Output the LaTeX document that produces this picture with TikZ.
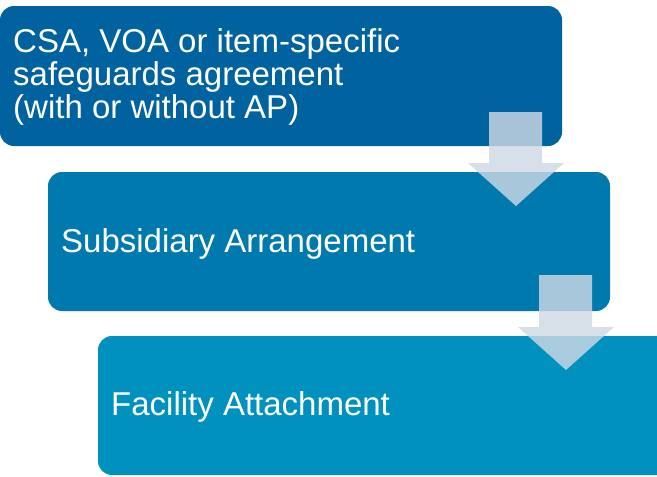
\documentclass[tikz,border=0pt]{standalone}
\usepackage{fontspec}
\setmainfont{Liberation Sans}
\definecolor{cA}{RGB}{0,99,160}
\definecolor{cB}{RGB}{0,122,174}
\definecolor{cC}{RGB}{0,145,190}
\definecolor{cArr}{RGB}{206,216,228}
\begin{document}
\begin{tikzpicture}[x=1pt,y=-1pt,
  box/.style={rounded corners=14pt},
  lbl/.style={text=white,anchor=base west,align=left,inner sep=0pt,font=\fontsize{33}{33}\selectfont},
  arr/.style={fill=cArr,fill opacity=0.82}]
\useasboundingbox (0,0) rectangle (657,477);
\fill[box,cA] (0,6) rectangle (562,146);
\fill[box,cB] (48,172) rectangle (610,311);
\fill[box,cC] (98,336) rectangle (700,475);
\node[lbl] (t1) at (13,118) {CSA, VOA or item-specific\\safeguards agreement\\(with or without AP)};
\node[lbl] (t2) at (61,252) {Subsidiary Arrangement};
\node[lbl] (t3) at (111,415) {Facility Attachment};
\fill[arr] (489,112) -- (542,112) -- (542,163) -- (564,163) -- (516,206) -- (468,163) -- (489,163) -- cycle;
\fill[arr] (539,275) -- (592,275) -- (592,327) -- (614,327) -- (566,370) -- (518,327) -- (539,327) -- cycle;
\end{tikzpicture}
\end{document}
